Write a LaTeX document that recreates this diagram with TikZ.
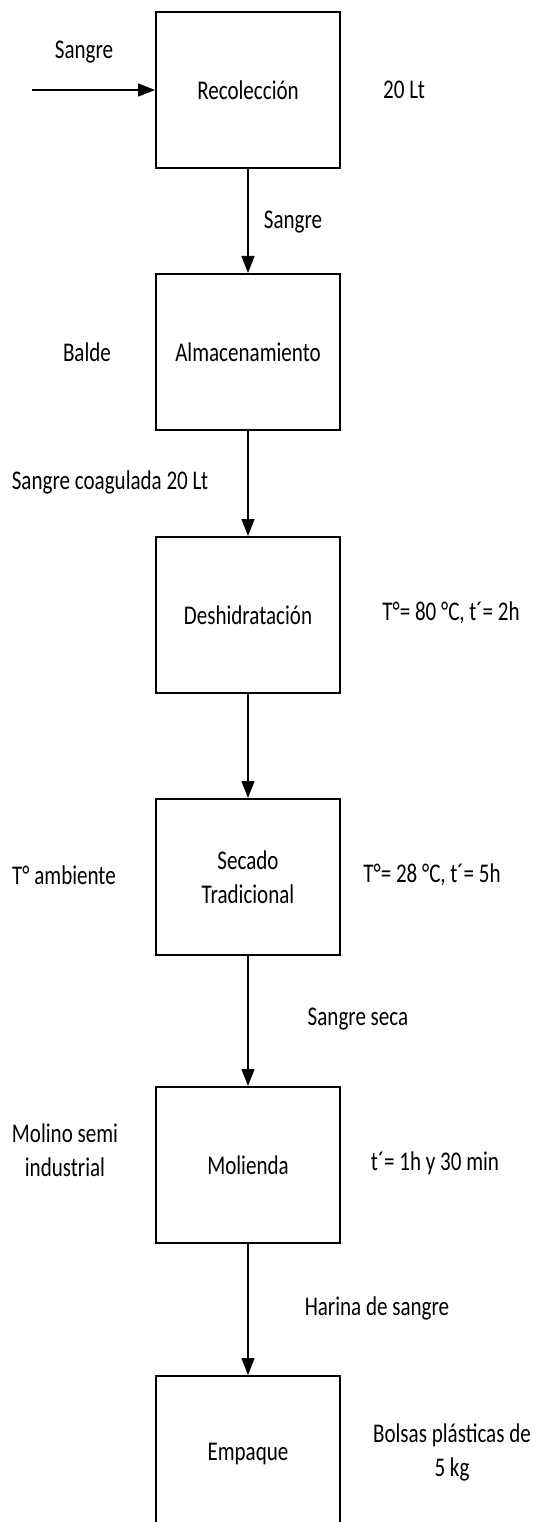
\documentclass[tikz,border=0pt]{standalone}
\usepackage{fontspec}
\setmainfont[FakeStretch=0.78]{Carlito}
\usetikzlibrary{positioning,arrows.meta}

\begin{document}
\begin{tikzpicture}[x=1pt,y=-1pt,
		font=\fontsize{27}{34}\selectfont,
		proc/.style={draw,line width=2pt,minimum width=184pt,minimum height=156pt,
			inner sep=0pt,align=center},
		flecha/.style={line width=1.3pt,-{Triangle[length=17pt,width=13pt]}},
		txt/.style={align=center,inner sep=0pt}]
		\useasboundingbox (0,0) rectangle (541,1522);
		% bloques del proceso
		\node[proc](rec) at (248,90) {Recolección};
		\node[proc,below=104pt of rec](alm) {Almacenamiento};
		\node[proc,below=105pt of alm](des) {Deshidratación};
		\node[proc,below=104pt of des](sec) {Secado\\Tradicional};
		\node[proc,below=130pt of sec](mol) {Molienda};
		\node[proc,below=131pt of mol](emp) {Empaque};
		% flechas
		\coordinate(ent) at (32,90);
		\draw[flecha](ent)--(rec);
		\draw[flecha](rec)--(alm);
		\draw[flecha](alm)--(des);
		\draw[flecha](des)--(sec);
		\draw[flecha](sec)--(mol);
		\draw[flecha](mol)--(emp);
		% textos
		\node[txt](t1) at (84,52) {Sangre};
		\node[txt](t2) at (404,90) {20 Lt};
		\node[txt](t3) at (293,222) {Sangre};
		\node[txt](t4) at (87,352) {Balde};
		\node[txt](t5) at (110,482) {Sangre coagulada 20 Lt};
		\node[txt](t6) at (451,613) {T°= 80 °C, t´= 2h};
		\node[txt](t7) at (64,875) {T° ambiente};
		\node[txt](t8) at (432,875) {T°= 28 °C, t´= 5h};
		\node[txt](t9) at (358,1019) {Sangre seca};
		\node[txt](t10) at (65,1150) {Molino semi\\industrial};
		\node[txt](t11) at (435,1163) {t´= 1h y 30 min};
		\node[txt](t12) at (377,1308) {Harina de sangre};
		\node[txt](t13) at (452,1452) {Bolsas plásticas de\\5 kg};
\end{tikzpicture}
\end{document}
